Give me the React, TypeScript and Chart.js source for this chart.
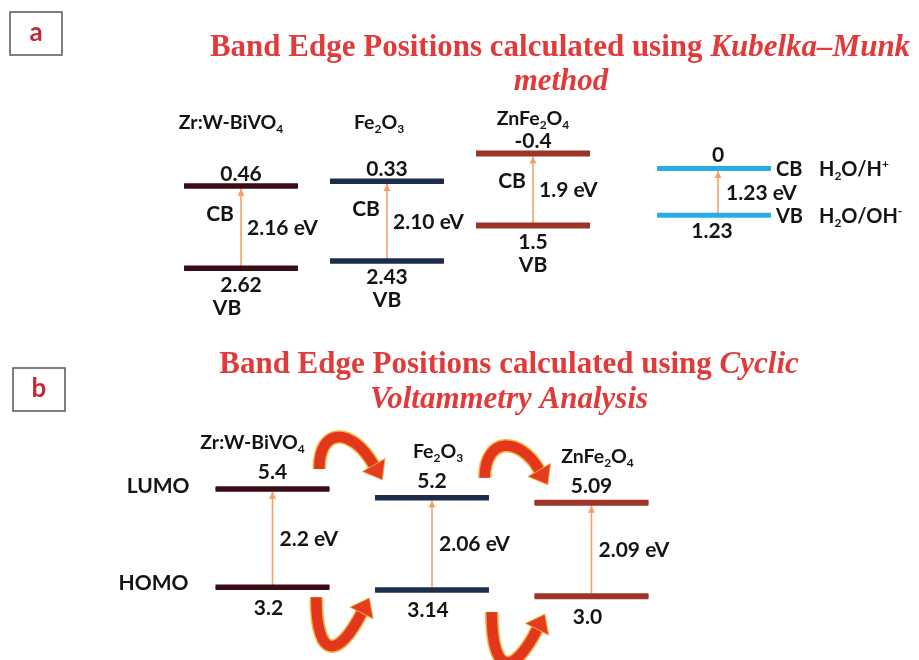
import React, { useEffect, useRef } from "react";
import { Chart, registerables } from "chart.js";

Chart.register(...registerables);

// ---------------- data ----------------
const materials = ["Zr:W-BiVO_4", "Fe_2O_3", "ZnFe_2O_4"];

// Panel a – Kubelka–Munk band edges (V vs NHE)
const cbKM = [0.46, 0.33, -0.4];
const vbKM = [2.62, 2.43, 1.5];
const cbKMLabels = ["0.46", "0.33", "-0.4"];
const vbKMLabels = ["2.62", "2.43", "1.5"];
const gapKMLabels = ["2.16 eV", "2.10 eV", "1.9 eV"];

// water redox reference
const waterLevels = [0, 1.23];
const waterLevelLabels = ["0", "1.23"];
const waterBandNames = ["CB", "VB"];
const waterCouples = ["H_2O/H^+", "H_2O/OH^-"];
const waterGapLabel = "1.23 eV";

// Panel b – Cyclic voltammetry (eV)
const lumoCV = [5.4, 5.2, 5.09];
const homoCV = [3.2, 3.14, 3.0];
const lumoCVLabels = ["5.4", "5.2", "5.09"];
const homoCVLabels = ["3.2", "3.14", "3.0"];
const gapCVLabels = ["2.2 eV", "2.06 eV", "2.09 eV"];

// charge transfer (from column -> to column)
const transfers = [
  [0, 1],
  [1, 2],
];

// ---------------- styles / layout ----------------
const W = 919;
const H = 660;
const FONT = "Lato, 'Open Sans', sans-serif";
const SERIF = "'Liberation Serif', 'Times New Roman', serif";
const TITLE_RED = "#e03a3a";
const ARROW_ORANGE = "#f4a066";
const REF_GAP = 0.24;
const HW_A = 0.39;
const HW_B = 0.357;
const NUM = 21;
const NAME = 19.5;

const stylesA = [
  { outer: "#3a0c16", inner: "#9a2640", w: 5.5 },
  { outer: "#1b2d4b", inner: "#4170a3", w: 5.5 },
  { outer: "#9c3428", inner: "#a83b2e", w: 6 },
];
const waterStyle = { outer: "#27ade2", inner: "#30b6ea", w: 5 };
const stylesB = [
  { outer: "#3a0c16", inner: "#92233b", w: 5.5 },
  { outer: "#1b2d4b", inner: "#3d6a9d", w: 5.5 },
  { outer: "#9c3428", inner: "#a83b2e", w: 6 },
];

function levelSets(xID: string, yID: string, cx: number, hw: number, v: number, st: any) {
  const pts = [
    { x: cx - hw, y: v },
    { x: cx + hw, y: v },
  ];
  const base = {
    xAxisID: xID,
    yAxisID: yID,
    showLine: true,
    pointRadius: 0,
    borderCapStyle: "butt",
    fill: false,
    order: 0,
  };
  return [
    { ...base, data: pts, borderColor: st.outer, borderWidth: st.w },
    { ...base, data: pts, borderColor: st.inner, borderWidth: st.w - 2.5 },
  ];
}

function shaftSet(xID: string, yID: string, cx: number, from: number, to: number) {
  return {
    xAxisID: xID,
    yAxisID: yID,
    showLine: true,
    pointRadius: 0,
    data: [
      { x: cx, y: from },
      { x: cx, y: to },
    ],
    borderColor: ARROW_ORANGE,
    borderWidth: 1.6,
    fill: false,
    order: 2,
  };
}

// ---------------- drawing helpers ----------------
function richSegments(s: string) {
  const segs: { t: string; k: string }[] = [];
  let i = 0;
  while (i < s.length) {
    const c = s[i];
    if ((c === "_" || c === "^") && i + 1 < s.length) {
      segs.push({ t: s[i + 1], k: c === "_" ? "sub" : "sup" });
      i += 2;
    } else {
      let j = i;
      while (j < s.length && s[j] !== "_" && s[j] !== "^") j++;
      segs.push({ t: s.slice(i, j), k: "n" });
      i = j;
    }
  }
  return segs;
}

function drawRich(
  ctx: CanvasRenderingContext2D,
  s: string,
  x: number,
  yMid: number,
  size: number,
  align: "left" | "center" | "right",
  color = "#141414"
) {
  const segs = richSegments(s);
  const small = Math.round(size * 0.62);
  let total = 0;
  const ws = segs.map((sg) => {
    ctx.font = `bold ${sg.k === "n" ? size : small}px ${FONT}`;
    const w = ctx.measureText(sg.t).width;
    total += w;
    return w;
  });
  let x0 = align === "left" ? x : align === "right" ? x - total : x - total / 2;
  const base = yMid + size * 0.36;
  ctx.fillStyle = color;
  ctx.textAlign = "left";
  ctx.textBaseline = "alphabetic";
  segs.forEach((sg, i) => {
    ctx.font = `bold ${sg.k === "n" ? size : small}px ${FONT}`;
    const yy = sg.k === "sub" ? base + size * 0.2 : sg.k === "sup" ? base - size * 0.4 : base;
    ctx.fillText(sg.t, x0, yy);
    x0 += ws[i];
  });
}

function drawTitleLine(
  ctx: CanvasRenderingContext2D,
  runs: { t: string; i: boolean }[],
  cx: number,
  baseline: number,
  size: number
) {
  const fonts = runs.map((r) => `${r.i ? "italic " : ""}bold ${size}px ${SERIF}`);
  let total = 0;
  const ws = runs.map((r, k) => {
    ctx.font = fonts[k];
    const w = ctx.measureText(r.t).width;
    total += w;
    return w;
  });
  let x = cx - total / 2;
  ctx.fillStyle = TITLE_RED;
  ctx.textAlign = "left";
  ctx.textBaseline = "alphabetic";
  runs.forEach((r, k) => {
    ctx.font = fonts[k];
    ctx.fillText(r.t, x, baseline);
    x += ws[k];
  });
}

function panelBox(ctx: CanvasRenderingContext2D, x: number, y: number, letter: string) {
  ctx.save();
  ctx.strokeStyle = "#555";
  ctx.lineWidth = 1.5;
  ctx.strokeRect(x, y, 52, 43);
  ctx.fillStyle = "#c22a36";
  ctx.font = `bold 26px ${FONT}`;
  ctx.textAlign = "center";
  ctx.textBaseline = "middle";
  ctx.fillText(letter, x + 26, y + 21);
  ctx.restore();
}

function curvedArrow(
  ctx: CanvasRenderingContext2D,
  tail: { x: number; y: number },
  tip: { x: number; y: number },
  extremeY: number,
  arch: boolean
) {
  const len = Math.hypot(0.5, 0.87);
  const dir = arch ? { x: 0.5 / len, y: 0.87 / len } : { x: 0.45 / len, y: -0.89 / len };
  const headLen = 17;
  const headHalf = 13;
  const shaft = 12;
  const base = { x: tip.x - dir.x * headLen, y: tip.y - dir.y * headLen };
  const endY = (tail.y + base.y) / 2;
  const cY = (extremeY - 0.25 * endY) / 0.75;
  const k = (base.y - cY) / dir.y;
  const c2 = { x: base.x - dir.x * k, y: base.y - dir.y * k };
  const c1 = { x: tail.x, y: cY };
  const path = () => {
    ctx.beginPath();
    ctx.moveTo(tail.x, tail.y);
    ctx.bezierCurveTo(c1.x, c1.y, c2.x, c2.y, base.x, base.y);
  };
  ctx.save();
  ctx.lineCap = "butt";
  path();
  ctx.strokeStyle = "#f5b23e";
  ctx.lineWidth = shaft + 1.5;
  ctx.stroke();
  path();
  ctx.strokeStyle = "#e2361d";
  ctx.lineWidth = shaft - 1.5;
  ctx.stroke();
  const perp = { x: -dir.y, y: dir.x };
  ctx.beginPath();
  ctx.moveTo(tip.x, tip.y);
  ctx.lineTo(base.x + perp.x * headHalf, base.y + perp.y * headHalf);
  ctx.lineTo(base.x - perp.x * headHalf, base.y - perp.y * headHalf);
  ctx.closePath();
  ctx.fillStyle = "#e63c1e";
  ctx.fill();
  ctx.strokeStyle = "#f3a63c";
  ctx.lineWidth = 1;
  ctx.stroke();
  ctx.restore();
}

function arrowHead(ctx: CanvasRenderingContext2D, x: number, tipY: number) {
  ctx.beginPath();
  ctx.moveTo(x, tipY);
  ctx.lineTo(x - 3.5, tipY + 7);
  ctx.lineTo(x + 3.5, tipY + 7);
  ctx.closePath();
  ctx.fillStyle = ARROW_ORANGE;
  ctx.fill();
}

const overlayPlugin = {
  id: "overlay",
  afterDatasetsDraw(chart: any) {
    const ctx: CanvasRenderingContext2D = chart.ctx;
    const { xa, ya, xb, yb } = chart.scales;
    ctx.save();

    // ---- panel boxes & titles ----
    panelBox(ctx, 10, 12, "a");
    panelBox(ctx, 13, 368, "b");
    drawTitleLine(
      ctx,
      [
        { t: "Band Edge Positions calculated using ", i: false },
        { t: "Kubelka\u2013Munk", i: true },
      ],
      560,
      56,
      31
    );
    drawTitleLine(ctx, [{ t: "method", i: true }], 561, 90, 31);
    drawTitleLine(
      ctx,
      [
        { t: "Band Edge Positions calculated using ", i: false },
        { t: "Cyclic", i: true },
      ],
      509,
      373,
      31
    );
    drawTitleLine(ctx, [{ t: "Voltammetry Analysis", i: true }], 509, 408, 31);

    // ---- panel a ----
    const nameRowA = ya.getPixelForValue(Math.min(...cbKM)) - 35;
    materials.forEach((m, i) => {
      const cx = xa.getPixelForValue(i);
      const cy = ya.getPixelForValue(cbKM[i]);
      const vy = ya.getPixelForValue(vbKM[i]);
      arrowHead(ctx, cx, cy + stylesA[i].w / 2);
      drawRich(ctx, m, cx + (i === 0 ? -10 : i === 1 ? -8 : 0), nameRowA + (i === 2 ? 0 : 4), NAME, "center");
      drawRich(ctx, cbKMLabels[i], cx, cy - 13, NUM, "center");
      drawRich(ctx, vbKMLabels[i], cx, vy + 16, NUM, "center");
      drawRich(ctx, "VB", cx - (i === 0 ? 14 : 0), vy + 39, NUM, "center");
      drawRich(ctx, "CB", cx - 21, cy + 27, NUM, "center");
      drawRich(ctx, gapKMLabels[i], cx + 6, (cy + vy) / 2, NUM, "left");
    });
    // water reference
    {
      const cx = xa.getPixelForValue(materials.length + REF_GAP);
      const right = xa.getPixelForValue(materials.length + REF_GAP + HW_A);
      const py = waterLevels.map((v) => ya.getPixelForValue(v));
      arrowHead(ctx, cx + 4, py[0] + waterStyle.w / 2);
      drawRich(ctx, waterLevelLabels[0], cx + 4, py[0] - 14, NUM, "center");
      drawRich(ctx, waterLevelLabels[1], cx - 2, py[1] + 15, NUM, "center");
      drawRich(ctx, waterGapLabel, cx + 12, (py[0] + py[1]) / 2, NUM, "left");
      waterBandNames.forEach((b, k) => {
        drawRich(ctx, b, right + 5, py[k], 20, "left");
        drawRich(ctx, waterCouples[k], right + 48, py[k], 20, "left");
      });
    }

    // ---- panel b ----
    materials.forEach((m, i) => {
      const cx = xb.getPixelForValue(i);
      const ly = yb.getPixelForValue(lumoCV[i]);
      const hy = yb.getPixelForValue(homoCV[i]);
      arrowHead(ctx, cx, ly + stylesB[i].w / 2);
      drawRich(ctx, m, cx + (i === 0 ? -20 : 6), ly - 47, NAME, "center");
      drawRich(ctx, lumoCVLabels[i], cx, ly - 17, NUM, "center");
      drawRich(ctx, homoCVLabels[i], cx - 4, hy + 20, NUM, "center");
      drawRich(ctx, gapCVLabels[i], cx + 7, (ly + hy) / 2, NUM, "left");
    });
    {
      const left = xb.getPixelForValue(-HW_B);
      drawRich(ctx, "LUMO", left - 26, yb.getPixelForValue(lumoCV[0]) - 3, NUM, "right");
      drawRich(ctx, "HOMO", left - 27, yb.getPixelForValue(homoCV[0]) - 5, NUM, "right");
    }
    // charge-transfer curved arrows
    transfers.forEach(([a, b], n) => {
      const mid = (xb.getPixelForValue(a) + xb.getPixelForValue(b)) / 2;
      const la = yb.getPixelForValue(lumoCV[a]);
      const lb = yb.getPixelForValue(lumoCV[b]);
      const tT = { x: mid - 33 + n * 6, y: la - 20 };
      const tH = { x: mid + 30 + n * 6, y: lb - 18 };
      curvedArrow(ctx, tT, tH, Math.min(tT.y, tH.y) - 32, true);
      const ha = yb.getPixelForValue(homoCV[a]);
      const hb = yb.getPixelForValue(homoCV[b]);
      const bT = { x: mid - 36 + n * 16, y: ha + 10 + n * 12 };
      const bH = { x: mid + 17 + n * 16, y: hb + 8 + n * 10 };
      curvedArrow(ctx, bT, bH, Math.max(bT.y, bH.y) + 48, false);
    });

    ctx.restore();
  },
};

export default function App() {
  const ref = useRef<HTMLCanvasElement | null>(null);

  useEffect(() => {
    if (!ref.current) return;
    const datasets: any[] = [];
    materials.forEach((_, i) => {
      datasets.push(...levelSets("xa", "ya", i, HW_A, cbKM[i], stylesA[i]));
      datasets.push(...levelSets("xa", "ya", i, HW_A, vbKM[i], stylesA[i]));
      datasets.push(shaftSet("xa", "ya", i, vbKM[i], cbKM[i]));
      datasets.push(...levelSets("xb", "yb", i, HW_B, lumoCV[i], stylesB[i]));
      datasets.push(...levelSets("xb", "yb", i, HW_B, homoCV[i], stylesB[i]));
      datasets.push(shaftSet("xb", "yb", i, homoCV[i], lumoCV[i]));
    });
    const wx = materials.length + REF_GAP;
    waterLevels.forEach((v) => datasets.push(...levelSets("xa", "ya", wx, HW_A, v, waterStyle)));
    datasets.push(shaftSet("xa", "ya", wx + 0.027, waterLevels[1], waterLevels[0]));

    const chart = new Chart(ref.current, {
      type: "scatter",
      data: { datasets },
      options: {
        responsive: false,
        animation: false,
        events: [],
        layout: { padding: 0 },
        plugins: { legend: { display: false }, tooltip: { enabled: false }, title: { display: false } },
        scales: {
          xa: { type: "linear", axis: "x", display: false, min: -241 / 146, max: 678 / 146 },
          xb: { type: "linear", axis: "x", display: false, min: -272.5 / 159.5, max: 646.5 / 159.5 },
          ya: { type: "linear", axis: "y", display: false, reverse: true, min: -4.437, max: 12.932 },
          yb: { type: "linear", axis: "y", display: false, min: 1.572, max: 16.338 },
        },
      } as any,
      plugins: [overlayPlugin],
    });
    return () => chart.destroy();
  }, []);

  return (
    <div style={{ position: "absolute", left: 0, top: 0, width: W, height: H, background: "#fff" }}>
      <canvas ref={ref} width={W} height={H} style={{ display: "block", width: W, height: H }} />
    </div>
  );
}
